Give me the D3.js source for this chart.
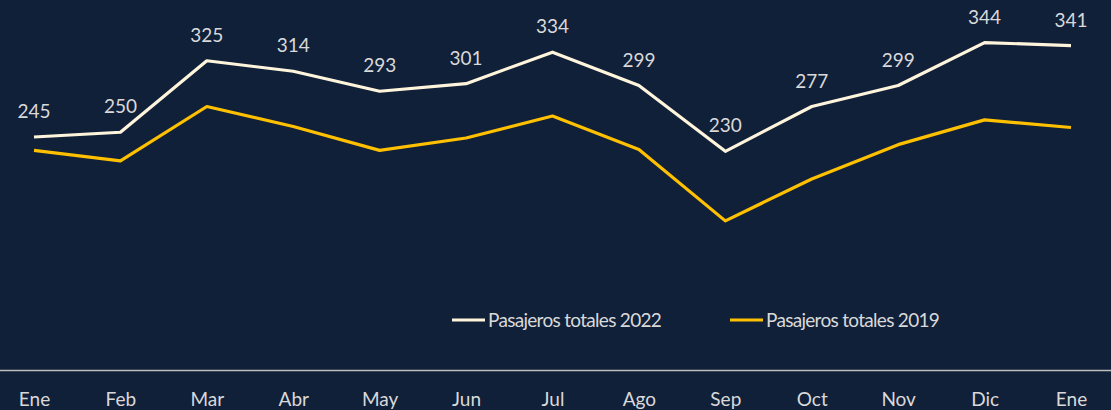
<!DOCTYPE html>
<html><head><meta charset="utf-8">
<script src="https://cdn.jsdelivr.net/npm/d3@7"></script>
<style>html,body{margin:0;padding:0;background:#112039;}svg{display:block;}</style>
</head><body>
<svg id="c" width="1111" height="410"></svg>
<script>
const months = ["Ene","Feb","Mar","Abr","May","Jun","Jul","Ago","Sep","Oct","Nov","Dic","Ene "];
const pax2022 = [245,250,325,314,293,301,334,299,230,277,299,344,341];
const pax2019 = [231,220,277,256,231,244,267,232,157,201,237,263,255];
const seriesNames = ["Pasajeros totales 2022","Pasajeros totales 2019"];

const W = 1111, H = 410;
const svg = d3.select("#c");
svg.append("rect").attr("width",W).attr("height",H).attr("fill","#112039");
const font = "Lato, 'Open Sans', sans-serif";

const x = d3.scalePoint().domain(d3.range(months.length)).range([34,1071]);
const y = d3.scaleLinear().domain([0,350]).range([370.5, 370.5-350*0.953]);

// axis
const ax = svg.append("g").attr("transform","translate(0,370.5)")
  .call(d3.axisBottom(x).tickSize(0).tickPadding(0).tickFormat(i=>months[i].trim()));
ax.select(".domain").attr("d","M0,0H1111").attr("stroke","#bfbfbf").attr("stroke-width",1.5);
ax.selectAll("text").attr("fill","#d9d9d9").attr("font-family",font).attr("font-size",19)
  .attr("dy",null).attr("y",35);

const line = d3.line().x((d,i)=>x(i)).y(d=>y(d));
svg.append("path").datum(pax2019).attr("d",line).attr("fill","none")
  .attr("stroke","#ffc000").attr("stroke-width",3.2).attr("stroke-linejoin","round");
svg.append("path").datum(pax2022).attr("d",line).attr("fill","none")
  .attr("stroke","#fff5dc").attr("stroke-width",3.2).attr("stroke-linejoin","round");

svg.append("g").selectAll("text").data(pax2022).join("text")
  .attr("x",(d,i)=>x(i)).attr("y",d=>y(d)-19)
  .attr("text-anchor","middle").attr("fill","#d9d9d9")
  .attr("font-family",font).attr("font-size",19).text(d=>d);

// legend
const legend = [{name:seriesNames[0],color:"#fff5dc",x:452},{name:seriesNames[1],color:"#ffc000",x:730}];
const lg = svg.append("g").selectAll("g").data(legend).join("g");
lg.append("line").attr("x1",d=>d.x).attr("x2",d=>d.x+33).attr("y1",320).attr("y2",320)
  .attr("stroke",d=>d.color).attr("stroke-width",3.2);
lg.append("text").attr("x",d=>d.x+36).attr("y",327).attr("fill","#d9d9d9")
  .attr("font-family",font).attr("font-size",19).attr("letter-spacing",-0.7).text(d=>d.name);
</script>
</body></html>
